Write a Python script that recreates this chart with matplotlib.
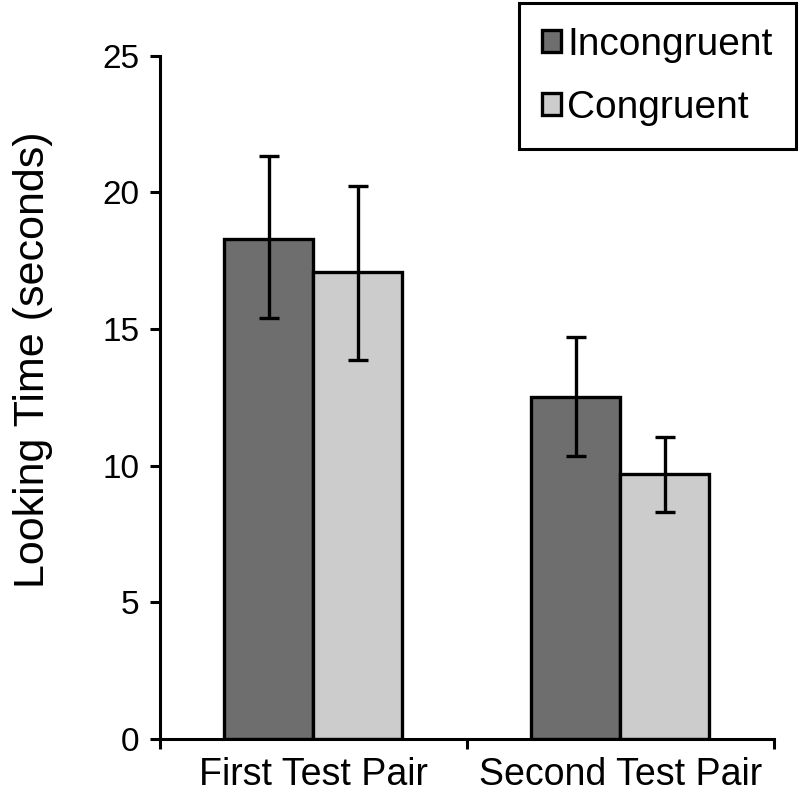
#!/usr/bin/env python3
import numpy as np
import matplotlib.pyplot as plt

plt.rcParams['font.family'] = ['Liberation Sans', 'DejaVu Sans']

pairs = ['First Test Pair', 'Second Test Pair']
conditions = ['Incongruent', 'Congruent']
means = [[18.3, 12.5],
         [17.1, 9.7]]
err_low = [[15.4, 10.35],
           [13.85, 8.3]]
err_high = [[21.35, 14.7],
            [20.25, 11.05]]
colors = ['#6e6e6e', '#cccccc']

fig = plt.figure(figsize=(8, 7.97), dpi=100)
ax = fig.add_axes([0.2, 0.073, 0.767, 0.857])

x = np.arange(len(pairs))
width = 0.29
for i in range(len(conditions)):
    m = np.array(means[i])
    lo = m - np.array(err_low[i])
    hi = np.array(err_high[i]) - m
    pos = x - width / 2 + i * width
    ax.bar(pos, m, width=width, color=colors[i], edgecolor='black',
           linewidth=2.4, label=conditions[i], zorder=2)
    ax.errorbar(pos, m, yerr=[lo, hi], fmt='none', ecolor='black',
                elinewidth=2.4, capsize=7, capthick=2.4, zorder=3)

ax.set_xlim(-0.5, 1.5)
ax.set_ylim(0, 25)
ax.set_yticks(np.arange(0, 26, 5))
ax.set_xticks([-0.5, 0.5, 1.5])
ax.set_xticklabels([])
ax.set_xticks(x, minor=True)
ax.set_xticklabels(pairs, minor=True)
ax.tick_params(axis='x', which='minor', length=0, pad=13, labelsize=27)
ax.tick_params(axis='x', which='major', direction='out', length=7, width=2.2)
ax.tick_params(axis='y', direction='out', length=7, width=2.2, pad=8,
               labelsize=24)
for s in ['top', 'right']:
    ax.spines[s].set_visible(False)
for s in ['left', 'bottom']:
    ax.spines[s].set_linewidth(2.2)
ax.set_ylabel('Looking Time (seconds)', fontsize=31)
ax.yaxis.set_label_coords(-0.175, 0.555)

leg = ax.legend(loc='upper right', bbox_to_anchor=(0.995, 0.996),
                bbox_transform=fig.transFigure, fontsize=28,
                fancybox=False, edgecolor='black', framealpha=1,
                handlelength=0.5, handleheight=0.5, handletextpad=0.15,
                borderpad=0.6, labelspacing=0.7, borderaxespad=0)
leg.get_frame().set_linewidth(2.2)

fig.savefig('out.png', dpi=100)
